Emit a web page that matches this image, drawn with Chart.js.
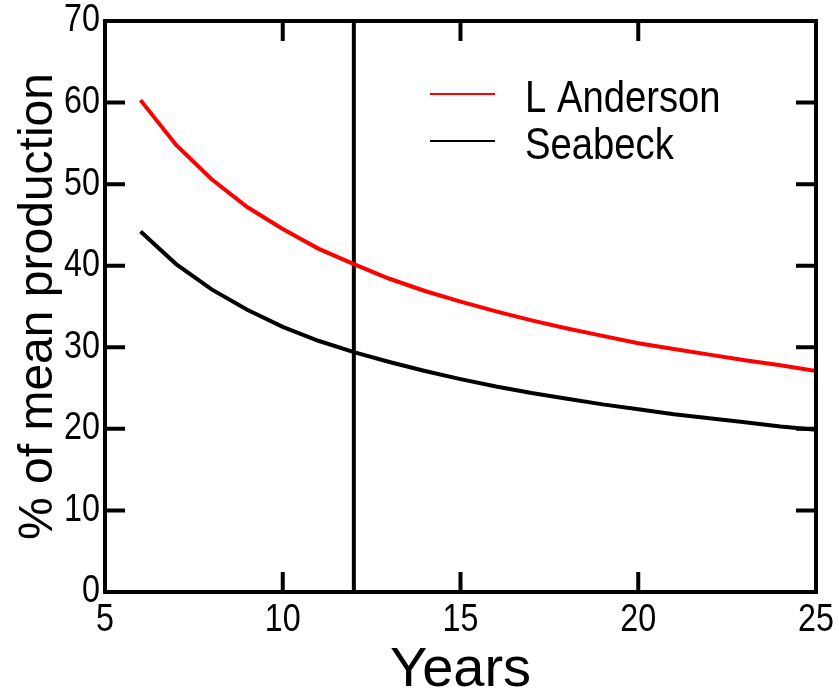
<!DOCTYPE html>
<html>
<head>
<meta charset="utf-8">
<script src="https://cdn.jsdelivr.net/npm/chart.js@4/dist/chart.umd.min.js"></script>
<style>
  html, body { margin: 0; padding: 0; background: #fff; }
  #wrap { width: 839px; height: 696px; }
</style>
</head>
<body>
<div id="wrap"><canvas id="chart" width="839" height="696"></canvas></div>
<script>
// years after planting
const years = [6, 7, 8, 9, 10, 11, 12, 13, 14, 15, 16, 17, 18, 19, 20, 21, 22, 23, 24, 25];
const andersonValues = [60.3, 54.8, 50.6, 47.2, 44.5, 42.1, 40.2, 38.4, 36.9, 35.6, 34.4, 33.3, 32.3, 31.4, 30.5, 29.8, 29.1, 28.4, 27.8, 27.1];
const seabeckValues = [44.2, 40.2, 37.1, 34.6, 32.5, 30.8, 29.4, 28.2, 27.1, 26.1, 25.2, 24.4, 23.7, 23.0, 22.4, 21.8, 21.3, 20.8, 20.3, 19.9];
const seriesNames = ['L Anderson', 'Seabeck'];
const markerYear = 12;
const xTicks = [5, 10, 15, 20, 25];
const yTicks = [0, 10, 20, 30, 40, 50, 60, 70];

const sans = '"Liberation Sans", Arial, sans-serif';
const squeeze = 0.85; // the original lettering is a bit narrow

const toPoints = (xs, ys) => xs.map((x, i) => ({ x: x, y: ys[i] }));

// write text squeezed horizontally
function narrowText(ctx, text, x, y, align) {
    ctx.save();
    ctx.translate(x, y);
    ctx.scale(squeeze, 1);
    ctx.textAlign = align;
    ctx.fillText(text, 0, 0);
    ctx.restore();
}

// frame on four sides with ticks pointing inwards, plus tick labels
const framePlugin = {
    id: 'frame',
    afterDatasetsDraw(chart) {
        const ctx = chart.ctx;
        const a = chart.chartArea;
        const xs = chart.scales.x, ys = chart.scales.y;
        const len = 20;
        ctx.save();
        ctx.strokeStyle = '#000';
        ctx.lineWidth = 4;
        ctx.beginPath();
        xs.ticks.forEach(t => {
            const px = xs.getPixelForValue(t.value);
            ctx.moveTo(px, a.bottom); ctx.lineTo(px, a.bottom - len);
            ctx.moveTo(px, a.top); ctx.lineTo(px, a.top + len);
        });
        ys.ticks.forEach(t => {
            const py = ys.getPixelForValue(t.value);
            ctx.moveTo(a.left, py); ctx.lineTo(a.left + len, py);
            ctx.moveTo(a.right, py); ctx.lineTo(a.right - len, py);
        });
        ctx.stroke();
        ctx.strokeRect(a.left, a.top, a.right - a.left, a.bottom - a.top);

        ctx.fillStyle = '#000';
        ctx.font = '38px ' + sans;
        ctx.textBaseline = 'middle';
        ys.ticks.forEach(t => {
            narrowText(ctx, String(t.value), a.left - 5, ys.getPixelForValue(t.value), 'right');
        });
        ctx.textBaseline = 'top';
        xs.ticks.forEach(t => {
            narrowText(ctx, String(t.value), xs.getPixelForValue(t.value), a.bottom + 10, 'center');
        });
        ctx.restore();
    }
};

// legend drawn inside the plot, from the datasets
const legendPlugin = {
    id: 'innerLegend',
    afterDatasetsDraw(chart) {
        const ctx = chart.ctx;
        ctx.save();
        ctx.font = '45px ' + sans;
        ctx.textBaseline = 'middle';
        ctx.fillStyle = '#000';
        chart.data.datasets.filter(d => d.showInLegend).forEach((d, i) => {
            const y = 94 + i * 47;
            ctx.strokeStyle = d.borderColor;
            ctx.lineWidth = 2;
            ctx.beginPath();
            ctx.moveTo(430, y); ctx.lineTo(495, y);
            ctx.stroke();
            narrowText(ctx, d.label, 525, y + 6, 'left');
        });
        ctx.restore();
    }
};

new Chart(document.getElementById('chart'), {
    type: 'line',
    data: {
        datasets: [{
            label: seriesNames[0],
            data: toPoints(years, andersonValues),
            borderColor: '#ff0000',
            borderWidth: 4,
            pointRadius: 0,
            tension: 0,
            showInLegend: true
        }, {
            label: seriesNames[1],
            data: toPoints(years, seabeckValues),
            borderColor: '#000000',
            borderWidth: 4,
            pointRadius: 0,
            tension: 0,
            showInLegend: true
        }, {
            label: 'marker',
            data: toPoints([markerYear, markerYear], [yTicks[0], yTicks[yTicks.length - 1]]),
            borderColor: '#000000',
            borderWidth: 4,
            pointRadius: 0,
            showInLegend: false
        }]
    },
    options: {
        responsive: false,
        animation: false,
        layout: { padding: { left: 0, right: 23, top: 21, bottom: 0 } },
        plugins: { legend: { display: false }, tooltip: { enabled: false } },
        scales: {
            x: {
                type: 'linear',
                min: 5, max: 25,
                afterBuildTicks: s => { s.ticks = xTicks.map(v => ({ value: v })); },
                afterFit: s => { s.height = 104; s.paddingLeft = 0; s.paddingRight = 0; },
                grid: { display: false, drawTicks: false },
                border: { display: false },
                ticks: { display: false },
                title: { display: true, text: 'Years', color: '#000', padding: 0, font: { family: sans, size: 56, lineHeight: 0.9 } }
            },
            y: {
                min: 0, max: 70,
                afterBuildTicks: s => { s.ticks = yTicks.map(v => ({ value: v })); },
                afterFit: s => { s.width = 105; s.paddingTop = 0; s.paddingBottom = 0; },
                grid: { display: false, drawTicks: false },
                border: { display: false },
                ticks: { display: false },
                title: { display: true, text: '% of mean production', color: '#000', padding: { top: 10, bottom: 0 }, font: { family: sans, size: 48 } }
            }
        }
    },
    plugins: [framePlugin, legendPlugin]
});
</script>
</body>
</html>
